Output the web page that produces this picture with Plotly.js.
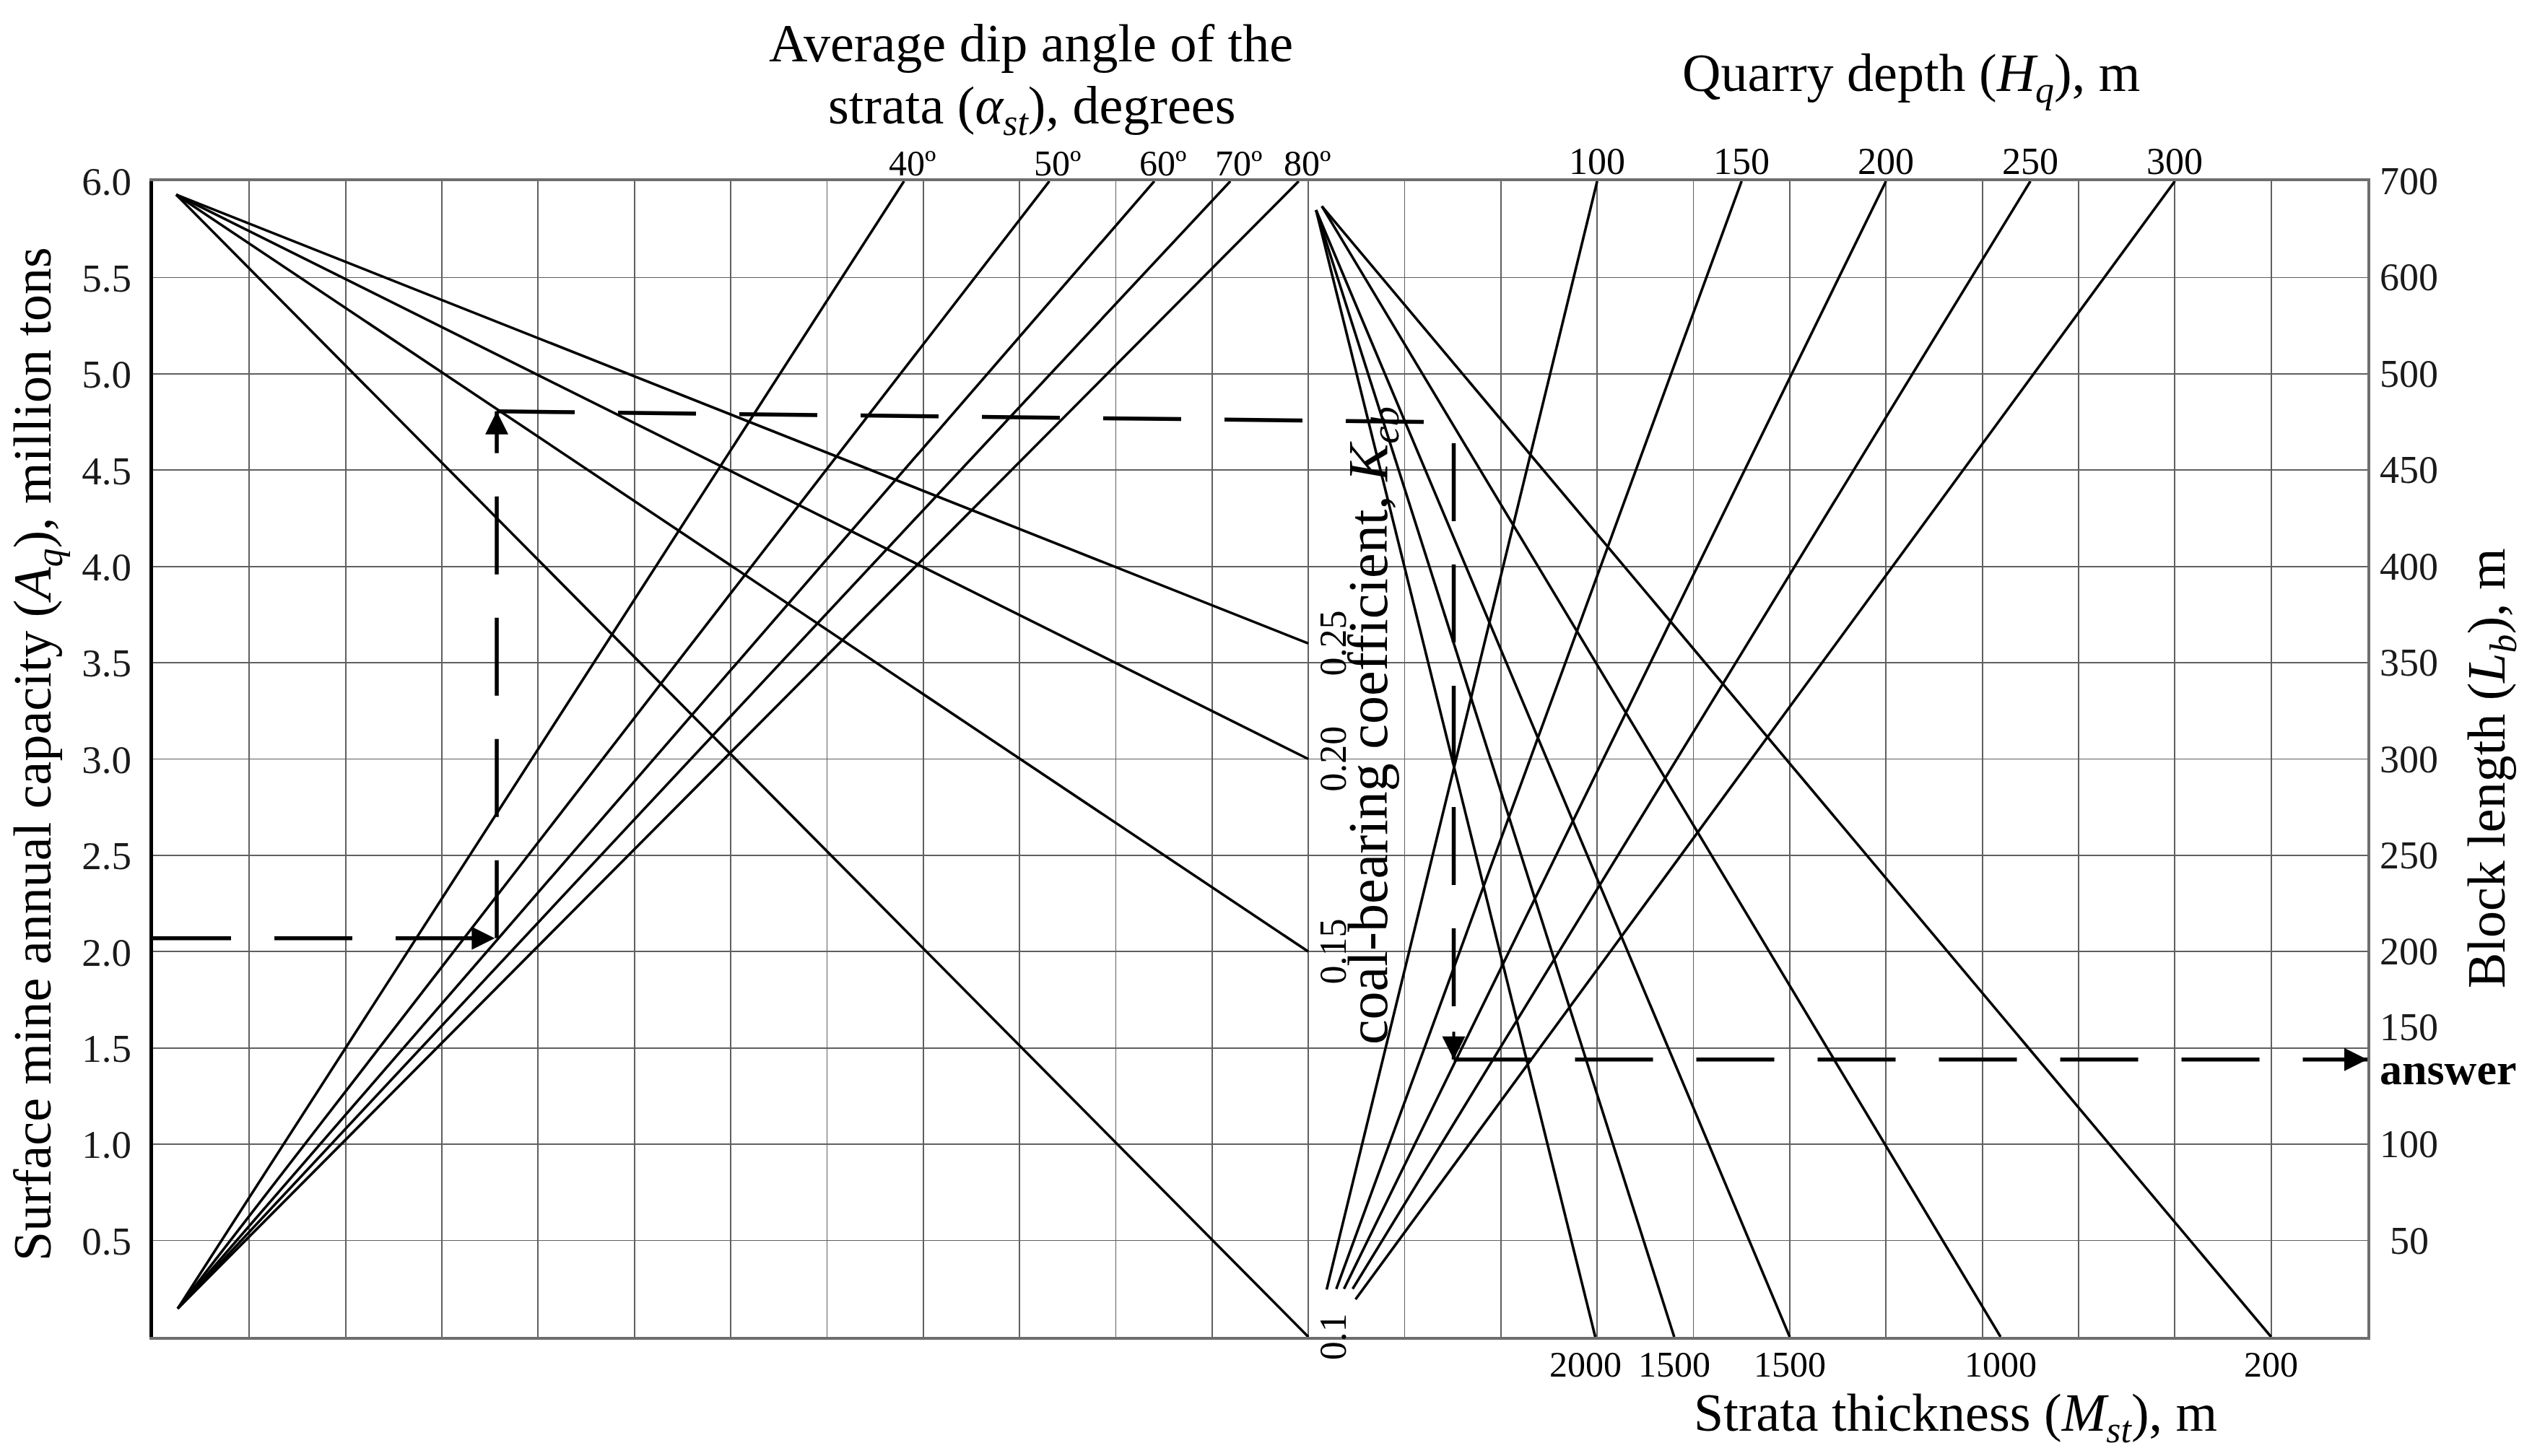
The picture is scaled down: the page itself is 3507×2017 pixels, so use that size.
<!DOCTYPE html>
<html>
<head>
<meta charset="utf-8">
<script src="https://cdn.plot.ly/plotly-3.0.1.min.js"></script>
<style>
html,body{margin:0;padding:0;background:#ffffff;}
#chart{width:3507px;height:2017px;}
</style>
</head>
<body>
<div id="chart"></div>
<script>
// ---------------- data ----------------
// x is measured in grid columns (0..23), y in capacity units (million tons, 0..6)
const capacityTickValues = [0.5,1.0,1.5,2.0,2.5,3.0,3.5,4.0,4.5,5.0,5.5,6.0];
const capacityTickLabels = ['0.5','1.0','1.5','2.0','2.5','3.0','3.5','4.0','4.5','5.0','5.5','6.0'];
const blockLengthLabels  = ['50','100','150','200','250','300','350','400','450','500','600','700'];

// dip-angle fan (bottom-left pivot -> top edge)
const dipAngleLabels = ['40º','50º','60º','70º','80º'];
const dipPivot       = [0.256, 0.147];
const dipTopX        = [7.80, 9.31, 10.40, 11.19, 11.90];

// coal-bearing coefficient fan (top-left pivot -> middle axis)
const kcbLabels = ['0.1','0.15','0.20','0.25'];
const kcbPivot  = [0.24, 5.93];
const kcbAxisX  = 12;
const kcbEndY   = [0.0, 2.0, 3.0, 3.6];

// quarry depth fan (bottom-middle -> top edge)
const depthLabels = ['100','150','200','250','300'];
const depthStartX = [12.19, 12.29, 12.37, 12.46, 12.49];
const depthStartY = [0.246, 0.249, 0.249, 0.249, 0.195];
const depthTopX   = [15.0, 16.5, 18.0, 19.5, 21.0];

// strata thickness fan (top-middle -> bottom edge)
const strataLabels  = ['2000','1500','1500','1000','200'];
const strataPivotX  = [12.08, 12.08, 12.08, 12.14, 12.14];
const strataPivotY  = [5.85, 5.85, 5.85, 5.87, 5.87];
const strataBottomX = [14.98, 15.80, 17.0, 19.19, 22.0];

// worked example (dashed key)
const exampleSegX = [[0, 3.55], [3.57, 3.57], [3.57, 13.28], [13.51, 13.51], [13.51, 23]];
const exampleSegY = [[2.07, 2.07], [2.07, 4.805], [4.805, 4.75], [4.64, 1.44], [1.44, 1.44]];
const exampleArrowX = [3.55, 3.57, 13.51, 23];
const exampleArrowY = [2.07, 4.805, 1.44, 1.44];
const exampleArrowDir = ['right', 'up', 'down', 'right'];

// ---------------- layout helpers ----------------
const W = 3507, H = 2017;
const PL = 212, PR = 3279, PT = 251, PB = 1852;
const XMAX = 23, YMAX = 6;
const px2x = p => (p - PL) / (PR - PL);
const py2y = p => (PB - p) / (PB - PT);
const SERIF = 'Liberation Serif, "Times New Roman", serif';

const traces = [];
function seg(xs, ys, extra) {
  traces.push(Object.assign({
    type: 'scatter', mode: 'lines', x: xs, y: ys,
    line: {color: '#000', width: 3.6},
    hoverinfo: 'skip', showlegend: false
  }, extra || {}));
}

dipTopX.forEach(tx => seg([dipPivot[0], tx], [dipPivot[1], YMAX]));
kcbEndY.forEach(ey => seg([kcbPivot[0], kcbAxisX], [kcbPivot[1], ey]));
depthTopX.forEach((tx, i) => seg([depthStartX[i], tx], [depthStartY[i], YMAX]));
strataBottomX.forEach((bx, i) => seg([strataPivotX[i], bx], [strataPivotY[i], 0]));
exampleSegX.forEach((xs, i) => seg(xs, exampleSegY[i], {
  line: {color: '#000', width: 5.5, dash: '108px,60px'},
  yaxis: i === exampleSegX.length - 1 ? 'y2' : 'y'
}));

const annotations = [];
function txt(o) {
  annotations.push(Object.assign({showarrow: false, xanchor: 'center', yanchor: 'middle',
    font: {family: SERIF, size: 52, color: '#000'}}, o));
}

// dip angle labels
dipAngleLabels.forEach((t, i) => txt({x: dipTopX[i], y: YMAX, xref: 'x', yref: 'y', text: t,
  xshift: 12, yshift: 25, font: {family: SERIF, size: 50, color: '#000'}}));
// depth labels
depthLabels.forEach((t, i) => txt({x: depthTopX[i], y: YMAX, xref: 'x', yref: 'y', text: t, yshift: 28}));
// strata labels
strataLabels.forEach((t, i) => txt({x: strataBottomX[i], y: 0, xref: 'x', yref: 'y', text: t,
  xshift: i === 0 ? -14 : 0, yshift: -38, font: {family: SERIF, size: 50, color: '#000'}}));
// coal-bearing labels
kcbLabels.forEach((t, i) => txt({x: kcbAxisX, y: kcbEndY[i], xref: 'x', yref: 'y', text: t,
  textangle: -90, xshift: 34}));
// right block-length labels
blockLengthLabels.forEach((t, i) => txt({x: px2x(3337), y: capacityTickValues[i], xref: 'paper', yref: 'y', text: t,
  yshift: t === '150' ? 29 : 0, font: {family: SERIF, size: 54, color: '#1a1a1a'}}));
txt({x: px2x(3294), y: exampleArrowY[3], xref: 'paper', yref: 'y2', text: '<b>answer</b>',
  xanchor: 'left', yshift: -13, font: {family: SERIF, size: 62, color: '#000'}});

// titles
const TF = {family: SERIF, size: 74, color: '#000'};
txt({x: px2x(1428), y: py2y(60), xref: 'paper', yref: 'paper', text: 'Average dip angle of the', font: TF});
txt({x: px2x(1429), y: py2y(151), xref: 'paper', yref: 'paper', text: 'strata (<i>α<sub>st</sub></i>), degrees', font: TF});
txt({x: px2x(2647), y: py2y(106), xref: 'paper', yref: 'paper', text: 'Quarry depth (<i>H<sub>q</sub></i>), m', font: TF});
txt({x: px2x(2708), y: py2y(1962), xref: 'paper', yref: 'paper', text: 'Strata thickness (<i>M<sub>st</sub></i>), m', font: TF});
txt({x: px2x(50), y: py2y(1045), xref: 'paper', yref: 'paper', textangle: -90,
  text: 'Surface mine annual capacity (<i>A<sub>q</sub></i>), million tons', font: TF});
txt({x: px2x(3449), y: py2y(1064), xref: 'paper', yref: 'paper', textangle: -90,
  text: 'Block length (<i>L<sub>b</sub></i>), m', font: TF});
txt({x: px2x(1900), y: py2y(1005), xref: 'paper', yref: 'paper', textangle: -90,
  text: 'coal-bearing coefficient, <i>K<sub>cb</sub></i>', font: {family: SERIF, size: 78, color: '#000'}});

// arrowheads of the worked example
exampleArrowX.forEach((ax, i) => {
  const d = exampleArrowDir[i];
  annotations.push({
    x: ax, y: exampleArrowY[i], xref: 'x', yref: i === 3 ? 'y2' : 'y', text: '',
    showarrow: true, arrowhead: 2, arrowsize: 1.6, arrowwidth: 4, arrowcolor: '#000',
    ax: d === 'right' ? -40 : 0, ay: d === 'up' ? 40 : (d === 'down' ? -40 : 0)
  });
});

const layout = {
  width: W, height: H, autosize: false,
  paper_bgcolor: '#fff', plot_bgcolor: '#fff',
  margin: {l: PL, r: W - PR, t: PT, b: H - PB, pad: 0},
  showlegend: false,
  xaxis: {
    range: [0, XMAX], tick0: 0, dtick: 1, showticklabels: false, ticks: '',
    showgrid: true, gridcolor: 'rgb(95,95,95)', gridwidth: 1.8, zeroline: false,
    showline: true, linecolor: 'rgb(110,110,110)', linewidth: 4, mirror: true, fixedrange: true
  },
  yaxis: {
    range: [0, YMAX], tickvals: capacityTickValues, ticktext: capacityTickLabels,
    tickfont: {family: SERIF, size: 55, color: '#1a1a1a'}, ticks: '', ticklabelstandoff: 14,
    showgrid: true, gridcolor: 'rgb(95,95,95)', gridwidth: 1.8, zeroline: false,
    showline: true, linecolor: '#000', linewidth: 5, fixedrange: true
  },
  yaxis2: {
    range: [0, YMAX], overlaying: 'y', side: 'right', showticklabels: false, ticks: '',
    showgrid: false, zeroline: false, showline: true, linecolor: 'rgb(110,110,110)', linewidth: 4, fixedrange: true
  },
  annotations: annotations
};

Plotly.newPlot('chart', traces, layout, {staticPlot: true, displayModeBar: false});
</script>
</body>
</html>
